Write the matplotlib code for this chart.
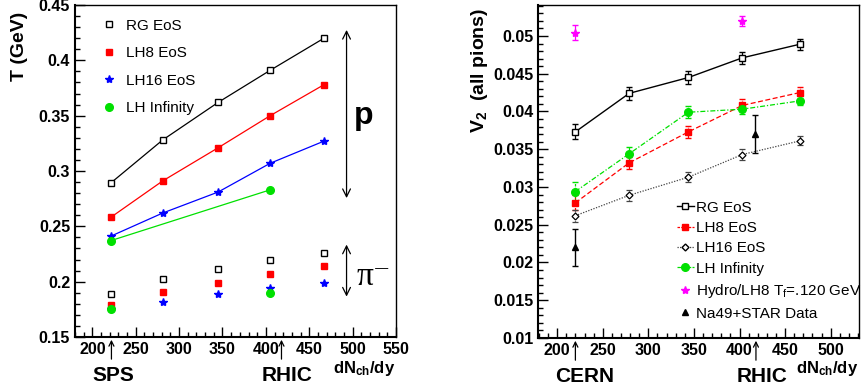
import matplotlib
matplotlib.use("Agg")
import matplotlib.pyplot as plt
from matplotlib.lines import Line2D
from matplotlib.ticker import MultipleLocator

plt.rcParams['font.family'] = ['Liberation Sans', 'DejaVu Sans']
plt.rcParams['mathtext.fontset'] = 'custom'
plt.rcParams['mathtext.rm'] = 'Liberation Sans'
plt.rcParams['mathtext.bf'] = 'Liberation Sans:bold'
plt.rcParams['mathtext.it'] = 'Liberation Sans:italic'

# ---------------- data ----------------
# Left panel: freeze-out temperature
x_T = [221, 281, 345, 405, 467]
x_inf = [221, 405]
T_p_RG = [0.289, 0.328, 0.362, 0.391, 0.420]
T_p_LH8 = [0.258, 0.291, 0.321, 0.350, 0.378]
T_p_LH16 = [0.241, 0.262, 0.281, 0.307, 0.327]
T_p_LHinf = [0.237, 0.283]
T_pi_RG = [0.189, 0.202, 0.211, 0.220, 0.226]
T_pi_LH8 = [0.179, 0.191, 0.199, 0.207, 0.214]
T_pi_LH16 = [0.175, 0.182, 0.189, 0.194, 0.199]
T_pi_LHinf = [0.175, 0.190]

# Right panel: v2 of all pions
x_v = [220, 279, 344, 403, 466]
v2_RG = [0.0373, 0.0424, 0.0445, 0.0471, 0.0489]
e_RG = [0.0010, 0.0009, 0.0009, 0.0008, 0.0007]
v2_LH8 = [0.0279, 0.0332, 0.0373, 0.0408, 0.0425]
e_LH8 = [0.0010, 0.0008, 0.0008, 0.0008, 0.0008]
v2_LH16 = [0.0262, 0.0289, 0.0313, 0.0343, 0.0361]
e_LH16 = [0.0008, 0.0007, 0.0007, 0.0007, 0.0006]
v2_LHinf = [0.0294, 0.0344, 0.0399, 0.0403, 0.0414]
e_LHinf = [0.0012, 0.0009, 0.0008, 0.0007, 0.0006]
x_hydro = [220, 403]
v2_hydro = [0.0504, 0.0520]
e_hydro = [0.0010, 0.0007]
x_data = [220, 417]
v2_data = [0.0220, 0.0370]
e_data = [0.0025, 0.0025]

left_ticks = [0.15, 0.2, 0.25, 0.3, 0.35, 0.4, 0.45]
right_ticks = [0.01, 0.015, 0.02, 0.025, 0.03, 0.035, 0.04, 0.045, 0.05]

GREEN = '#00e000'
fig = plt.figure(figsize=(8.61, 3.9), dpi=100)

def style_axes(ax):
    ax.tick_params(which='both', direction='in', top=False, right=False,
                   labelsize=11.5, width=1)
    ax.tick_params(which='major', length=7)
    ax.tick_params(which='minor', length=3.5)
    for lab in ax.get_xticklabels() + ax.get_yticklabels():
        lab.set_fontweight('bold')
    for s in ax.spines.values():
        s.set_linewidth(1)
    ax.spines['left'].set_linewidth(1.5)
    ax.spines['bottom'].set_linewidth(1.5)

SQ = 4.5
ST = 6
CI = 5.5

# ---------------- left panel ----------------
ax1 = fig.add_axes([75/861, 1-337/390, 321/861, 332/390])
ax1.plot(x_T, T_p_RG, '-', color='black', lw=0.9, marker='s', mfc='white', mec='black', ms=SQ, mew=1)
ax1.plot(x_T, T_p_LH8, '-', color='red', lw=0.9, marker='s', ms=SQ, mec='red', mfc='red')
ax1.plot(x_T, T_p_LH16, '-', color='blue', lw=0.9, marker='*', ms=ST, mec='blue', mfc='blue')
ax1.plot(x_inf, T_p_LHinf, '-', color=GREEN, lw=0.9, marker='o', ms=CI, mec=GREEN, mfc=GREEN)
ax1.plot(x_T, T_pi_RG, ls='none', marker='s', mfc='white', mec='black', ms=SQ + 0.5, mew=1)
ax1.plot(x_T, T_pi_LH8, ls='none', marker='s', ms=SQ, mec='red', mfc='red')
ax1.plot(x_T, T_pi_LH16, ls='none', marker='*', ms=ST, mec='blue', mfc='blue')
ax1.plot(x_inf, T_pi_LHinf, ls='none', marker='o', ms=CI, mec=GREEN, mfc=GREEN)
ax1.set_xlim(180, 550)
ax1.set_ylim(0.15, 0.45)
ax1.set_yticks(left_ticks)
ax1.set_yticklabels([('%g' % t) for t in left_ticks])
ax1.xaxis.set_major_locator(MultipleLocator(50))
ax1.xaxis.set_minor_locator(MultipleLocator(10))
ax1.yaxis.set_minor_locator(MultipleLocator(0.01))
style_axes(ax1)

h1 = [Line2D([], [], ls='none', marker='s', mfc='white', mec='black', ms=SQ, mew=1),
      Line2D([], [], ls='none', marker='s', mfc='red', mec='red', ms=SQ),
      Line2D([], [], ls='none', marker='*', mfc='blue', mec='blue', ms=ST),
      Line2D([], [], ls='none', marker='o', mfc=GREEN, mec=GREEN, ms=CI)]
ax1.legend(h1, ['RG EoS', 'LH8 EoS', 'LH16 EoS', 'LH Infinity'], loc='upper left',
           bbox_to_anchor=(0.04, 1.0), frameon=False, fontsize=11, handlelength=1.0,
           handletextpad=0.6, labelspacing=0.88)

ax1.annotate('', xy=(493, 0.430), xytext=(493, 0.273),
             arrowprops=dict(arrowstyle='<->', lw=0.9, color='black', mutation_scale=14))
ax1.annotate('', xy=(493, 0.236), xytext=(493, 0.184),
             arrowprops=dict(arrowstyle='<->', lw=0.9, color='black', mutation_scale=14))
ax1.text(513, 0.350, 'p', fontsize=23, fontweight='bold', ha='center', va='center')
ax1.text(504, 0.2045, '\u03c0\u207b', fontsize=24, family=['Liberation Serif', 'DejaVu Serif'],
         ha='left', va='center')

fig.text(19/861, 1-46/390, 'T (GeV)', rotation=90, fontsize=14, fontweight='bold',
         ha='center', va='center')

# ---------------- right panel ----------------
ax2 = fig.add_axes([538/861, 1-338/390, 321/861, 333/390])
ax2.errorbar(x_v, v2_RG, yerr=e_RG, color='black', ls='-', lw=1, marker='s', ms=SQ,
             mfc='white', mec='black', mew=1, capsize=2, elinewidth=0.9)
eb = ax2.errorbar(x_v, v2_LH8, yerr=e_LH8, color='red', ls=(0, (4, 2)), lw=0.9, marker='s', ms=SQ,
                  mfc='red', mec='red', capsize=2, elinewidth=0.9)
eb[2][0].set_linestyle((0, (2, 1)))
eb = ax2.errorbar(x_v, v2_LH16, yerr=e_LH16, color='#444444', ls=(0, (1, 1.2)), lw=0.9, marker='D',
                  ms=3.5, mfc='white', mec='black', mew=0.9, capsize=2, elinewidth=0.9)
eb[2][0].set_linestyle((0, (1, 1)))
eb = ax2.errorbar(x_v, v2_LHinf, yerr=e_LHinf, color=GREEN, ls=(0, (4, 1.5, 1, 1.5)), lw=0.9, marker='o',
                  ms=CI, mfc=GREEN, mec=GREEN, capsize=2, elinewidth=0.9)
eb[2][0].set_linestyle((0, (2, 1)))
ax2.errorbar(x_hydro, v2_hydro, yerr=e_hydro, color='magenta', ls='none', marker='*', ms=6,
             capsize=2, elinewidth=0.9)
ax2.errorbar(x_data, v2_data, yerr=e_data, color='black', ls='none', marker='^', ms=4.5,
             capsize=2.5, elinewidth=1)
ax2.set_xlim(179, 531)
ax2.set_ylim(0.01, 0.0541)
ax2.set_yticks(right_ticks)
ax2.set_yticklabels([('%g' % t) for t in right_ticks])
ax2.xaxis.set_major_locator(MultipleLocator(50))
ax2.xaxis.set_minor_locator(MultipleLocator(10))
ax2.yaxis.set_minor_locator(MultipleLocator(0.001))
style_axes(ax2)

h2 = [Line2D([], [], color='black', ls='-', lw=1, marker='s', ms=4, mfc='white', mec='black'),
      Line2D([], [], color='red', ls=(0, (2, 1)), lw=0.9, marker='s', ms=SQ, mfc='red', mec='red'),
      Line2D([], [], color='#444444', ls=(0, (1, 1)), lw=0.9, marker='D', ms=3.5, mfc='white', mec='black'),
      Line2D([], [], color=GREEN, ls=(0, (3, 1, 1, 1)), lw=0.9, marker='o', ms=CI, mfc=GREEN, mec=GREEN),
      Line2D([], [], ls='none', marker='*', ms=6, color='magenta'),
      Line2D([], [], ls='none', marker='^', ms=4.5, color='black')]
ax2.legend(h2, ['RG EoS', 'LH8 EoS', 'LH16 EoS', 'LH Infinity',
                r'Hydro/LH8 T$_{\mathrm{f}}$=.120 GeV', 'Na49+STAR Data'],
           loc='lower left', bbox_to_anchor=(0.40, 0.02), frameon=False, fontsize=11,
           handlelength=1.1, handletextpad=0.15, labelspacing=0.42, borderpad=0.2)

fig.text(480/861, 1-70/390, r'$\mathbf{V}_{\mathbf{2}}$  (all pions)', rotation=90,
         fontsize=14, fontweight='bold', ha='center', va='center')

# ---------------- below-axis annotations ----------------
def below(ax, x, label, xt):
    ax.annotate('', xy=(x, 0), xycoords=('data', 'axes fraction'),
                xytext=(x, -0.075), textcoords=('data', 'axes fraction'),
                arrowprops=dict(arrowstyle='->', lw=0.9, color='black', mutation_scale=9),
                annotation_clip=False)
    ax.text(xt, -0.115, label, transform=ax.get_xaxis_transform(), fontsize=15,
            fontweight='bold', ha='center', va='center', clip_on=False)

below(ax1, 222, 'SPS', 224)
below(ax1, 418, 'RHIC', 425)
below(ax2, 220, 'CERN', 230)
below(ax2, 418, 'RHIC', 425)

fig.text(395/861, 1-369/390, r'$\mathbf{dN_{ch}/dy}$', fontsize=12, ha='right', va='center')
fig.text(858/861, 1-369/390, r'$\mathbf{dN_{ch}/dy}$', fontsize=12, ha='right', va='center')

fig.savefig('out.png', dpi=100)
